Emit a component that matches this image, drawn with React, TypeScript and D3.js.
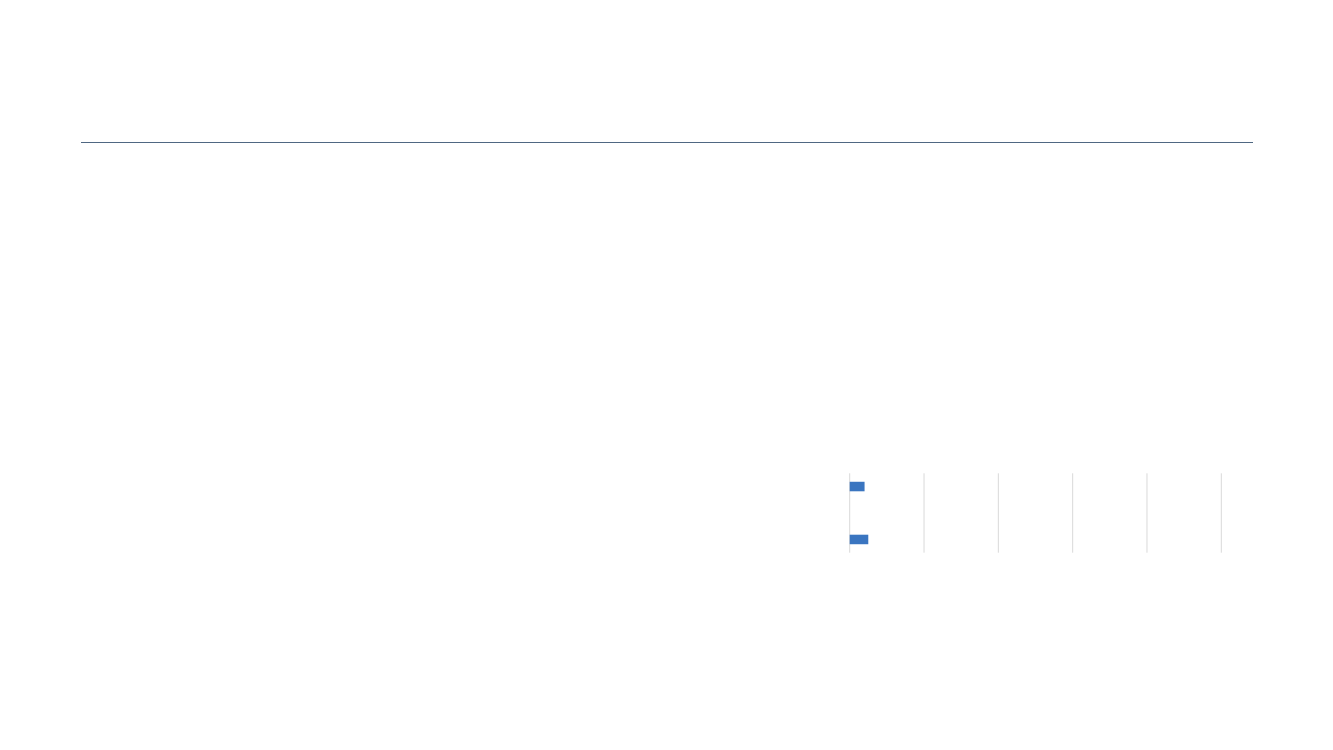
import { useEffect, useRef } from 'react'
import * as d3 from 'd3'

const WIDTH = 1333
const HEIGHT = 750

// three rows, middle one empty
const categories = ['A', 'B', 'C']
const values = [0.2, 0, 0.25]
const xTicks = [0, 1, 2, 3, 4, 5]

const BAR_COLOR = '#3a75c0'
const GRID_COLOR = '#d9d9d9'
const RULE_COLOR = '#4f6782'

export default function App() {
  const ref = useRef<SVGSVGElement>(null)

  useEffect(() => {
    const svg = d3.select(ref.current)
    svg.selectAll('*').remove()

    // header rule
    svg
      .append('line')
      .attr('x1', 81)
      .attr('x2', 1253)
      .attr('y1', 142.5)
      .attr('y2', 142.5)
      .attr('stroke', RULE_COLOR)
      .attr('stroke-width', 1.2)

    const x = d3
      .scaleLinear()
      .domain([0, xTicks[xTicks.length - 1]])
      .range([849.7, 1221.3])

    const y = d3
      .scaleBand<string>()
      .domain(categories)
      .range([473.3, 552.7])
      .paddingInner(0.64)
      .paddingOuter(0.32)

    const g = svg.append('g')

    g.selectAll('line.grid')
      .data(xTicks)
      .join('line')
      .attr('class', 'grid')
      .attr('x1', (d) => x(d))
      .attr('x2', (d) => x(d))
      .attr('y1', 473.3)
      .attr('y2', 552.7)
      .attr('stroke', GRID_COLOR)
      .attr('stroke-width', 1)

    g.selectAll('rect.bar')
      .data(values)
      .join('rect')
      .attr('class', 'bar')
      .attr('x', x(0))
      .attr('y', (_, i) => y(categories[i]) ?? 0)
      .attr('width', (d) => x(d) - x(0))
      .attr('height', y.bandwidth())
      .attr('fill', BAR_COLOR)
  }, [])

  return (
    <div style={{ position: 'absolute', left: 0, top: 0, width: WIDTH, height: HEIGHT, background: '#fff' }}>
      <svg ref={ref} width={WIDTH} height={HEIGHT} style={{ display: 'block' }} />
    </div>
  )
}
